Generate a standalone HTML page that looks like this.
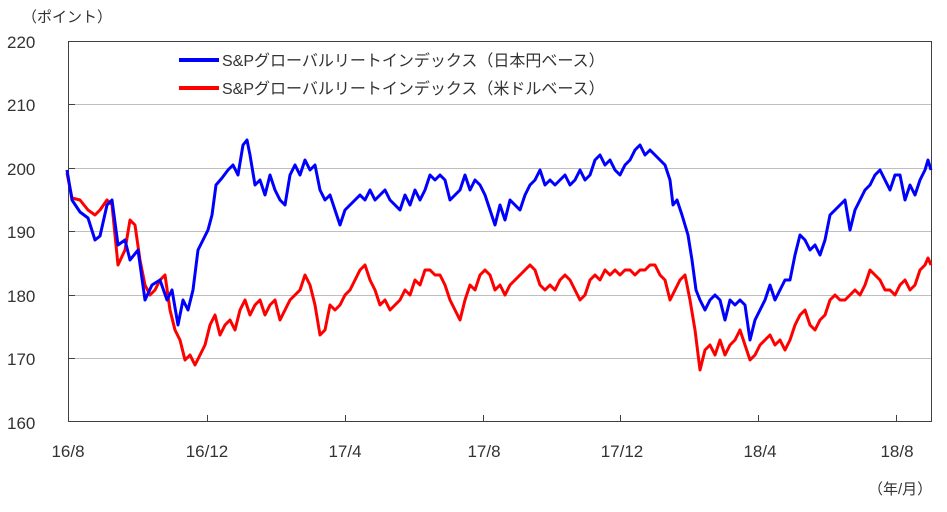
<!DOCTYPE html>
<html><head><meta charset="utf-8"><style>
body{margin:0;background:#fff;}
svg{display:block;font-family:"Liberation Sans","Noto Sans CJK JP",sans-serif;}
</style></head><body>
<svg width="947" height="512" viewBox="0 0 947 512">
<g stroke="#bfbfbf" stroke-width="1">
<line x1="68" y1="104.5" x2="931" y2="104.5"/>
<line x1="68" y1="168.5" x2="931" y2="168.5"/>
<line x1="68" y1="231.5" x2="931" y2="231.5"/>
<line x1="68" y1="295.5" x2="931" y2="295.5"/>
<line x1="68" y1="358.5" x2="931" y2="358.5"/>
</g>
<rect x="68.5" y="41.5" width="863" height="380" fill="none" stroke="#404040" stroke-width="1"/>
<g stroke="#404040" stroke-width="1">
<line x1="68" y1="104.5" x2="75" y2="104.5"/><line x1="68" y1="168.5" x2="75" y2="168.5"/>
<line x1="68" y1="231.5" x2="75" y2="231.5"/><line x1="68" y1="295.5" x2="75" y2="295.5"/>
<line x1="68" y1="358.5" x2="75" y2="358.5"/>
<line x1="207.5" y1="415" x2="207.5" y2="421"/><line x1="345.5" y1="415" x2="345.5" y2="421"/>
<line x1="483.5" y1="415" x2="483.5" y2="421"/><line x1="620.5" y1="415" x2="620.5" y2="421"/>
<line x1="758.5" y1="415" x2="758.5" y2="421"/><line x1="896.5" y1="415" x2="896.5" y2="421"/>
</g>
<g font-size="17" fill="#333" text-anchor="start">
<text x="7" y="48">220</text><text x="7" y="111">210</text><text x="7" y="175">200</text>
<text x="7" y="238">190</text><text x="7" y="302">180</text><text x="7" y="365">170</text>
<text x="7" y="429">160</text>
</g>
<g font-size="17" fill="#333" text-anchor="middle">
<text x="68" y="457">16/8</text><text x="207" y="457">16/12</text><text x="345" y="457">17/4</text>
<text x="484" y="457">17/8</text><text x="622" y="457">17/12</text><text x="760" y="457">18/4</text>
<text x="897" y="457">18/8</text>
</g>
<text x="22" y="22" font-size="15" fill="#333">（ポイント）</text>
<text x="868" y="494" font-size="15" fill="#333">（年/月）</text>
<line x1="179" y1="60" x2="219" y2="60" stroke="#0000ff" stroke-width="4"/>
<text x="222" y="66" font-size="16" fill="#333">S&amp;Pグローバルリートインデックス（日本円ベース）</text>
<line x1="179" y1="88" x2="219" y2="88" stroke="#ff0000" stroke-width="4"/>
<text x="222" y="94" font-size="16" fill="#333">S&amp;Pグローバルリートインデックス（米ドルベース）</text>
<polyline fill="none" stroke="#ff0000" stroke-width="3" stroke-linejoin="round" points="67,173 72,198 80,200 88,210 95,215 100,210 107,200 112,205 118,265 125,250 130,220 135,225 140,260 145,285 150,295 155,290 160,280 165,275 170,310 175,330 180,340 185,360 190,355 195,365 200,355 205,345 210,325 215,315 220,335 225,325 230,320 235,330 240,310 245,300 250,315 255,305 260,300 265,315 270,305 275,300 280,320 285,310 290,300 295,295 300,290 305,275 310,285 315,305 320,335 325,330 330,305 335,310 340,305 345,295 350,290 355,280 360,270 365,265 370,280 375,290 380,305 385,300 390,310 395,305 400,300 405,290 410,295 415,280 420,285 425,270 430,270 435,275 440,275 445,285 450,300 455,310 460,320 465,300 470,285 475,290 480,275 485,270 490,275 495,290 500,285 505,295 510,285 515,280 520,275 525,270 530,265 535,270 540,285 545,290 550,285 555,290 560,280 565,275 570,280 575,290 580,300 585,295 590,280 595,275 600,280 605,270 610,275 615,270 620,275 625,270 630,270 635,275 640,270 645,270 650,265 655,265 660,275 665,280 670,300 675,290 680,280 685,275 690,300 695,330 700,370 705,350 710,345 715,355 720,340 725,355 730,345 735,340 740,330 745,345 750,360 755,355 760,345 765,340 770,335 775,345 780,340 785,350 790,340 795,325 800,315 805,310 810,325 815,330 820,320 825,315 830,300 835,295 840,300 845,300 850,295 855,290 860,295 865,285 870,270 875,275 880,280 885,290 890,290 895,295 900,285 905,280 910,290 915,285 920,270 925,265 928,258 931,265"/>
<polyline fill="none" stroke="#0000ff" stroke-width="3" stroke-linejoin="round" points="67,170 72,200 80,212 88,218 95,240 100,236 107,205 112,200 118,245 125,240 130,260 138,250 145,300 152,285 160,280 167,300 172,290 178,325 183,300 188,310 193,290 198,250 203,240 208,230 212,215 216,185 222,178 228,170 233,165 238,175 243,145 247,140 250,155 255,185 260,180 265,195 270,175 275,190 280,200 285,205 290,175 295,165 300,175 305,160 310,170 315,165 320,190 325,200 330,195 335,210 340,225 345,210 350,205 355,200 360,195 365,200 370,190 375,200 380,195 385,190 390,200 395,205 400,210 405,195 410,205 415,190 420,200 425,190 430,175 435,180 440,175 445,180 450,200 455,195 460,190 465,175 470,190 475,180 480,185 485,195 490,210 495,225 500,205 505,220 510,200 515,205 520,210 525,195 530,185 535,180 540,170 545,185 550,180 555,185 560,180 565,175 570,185 575,180 580,170 585,180 590,175 595,160 600,155 605,165 610,160 615,170 620,175 625,165 630,160 635,150 640,145 645,155 650,150 655,155 660,160 665,165 670,180 673,205 677,200 682,215 688,235 692,260 696,290 700,300 705,310 710,300 715,295 720,300 725,320 730,300 735,305 740,300 745,305 750,340 755,320 760,310 765,300 770,285 775,300 780,290 785,280 790,280 795,255 800,235 805,240 810,250 815,245 820,255 825,240 830,215 835,210 840,205 845,200 850,230 855,210 860,200 865,190 870,185 875,175 880,170 885,180 890,190 895,175 900,175 905,200 910,185 915,195 920,180 925,170 928,160 931,170"/>
</svg>
</body></html>
